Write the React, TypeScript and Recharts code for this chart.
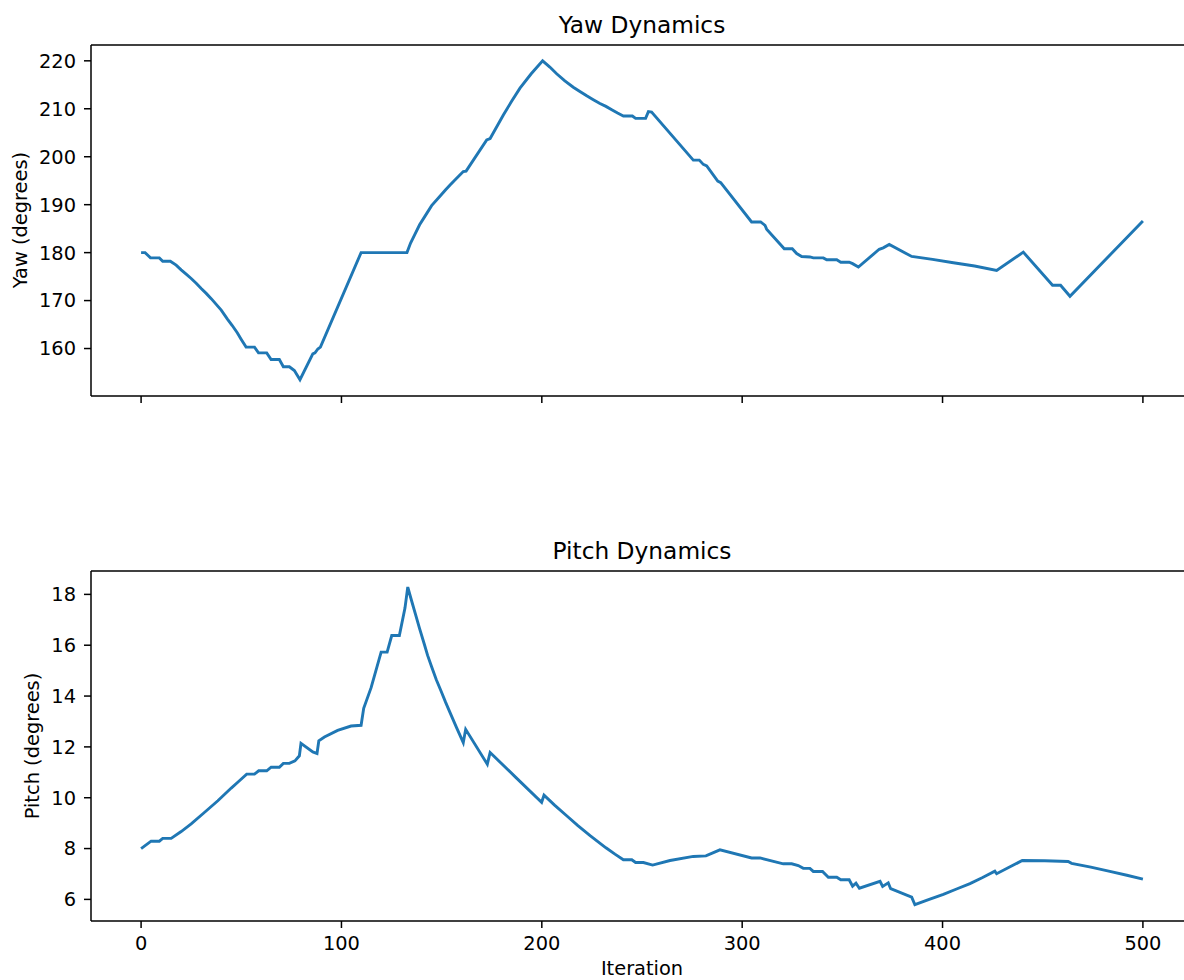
import React from 'react';
import { LineChart, Line, XAxis, YAxis } from 'recharts';

// iteration / value pairs
const yawIterations = [
  0, 2, 4.7, 9.1, 10.8, 14.6, 17.5, 20, 22.5, 25, 27.5, 30, 32.5, 35, 37.5, 40, 43, 45.5, 48, 50, 52.4, 56.6, 58.6,
  62.7, 64.9, 69, 71, 74, 76.5, 79.3, 85.7, 86.8, 88.2, 89.5, 109.8, 132.7, 134.5, 136.4, 139, 141.4, 145, 149.7,
  152, 154.2, 157, 160.8, 162.2, 172.5, 174.2, 180.8, 185, 189.1, 194.7, 200.4, 204, 207.4, 211.5, 215.7, 219,
  222.4, 225.7, 229, 232, 234.9, 237.8, 240.7, 245.2, 246.8, 251.8, 253.2, 254.8, 275.6, 278.6, 280.6, 282.3,
  287.8, 289.3, 304.7, 309.2, 311.4, 312.2, 321, 325, 327.2, 329.7, 333.8, 335.5, 340.5, 342.2, 347.2, 349.2,
  353.4, 355.1, 358, 368.4, 370.4, 373.4, 384.6, 395, 405.4, 416, 427, 440.3, 454.9, 458.9, 463.6, 500,
];
const yawValues = [
  180, 180, 178.9, 178.9, 178.2, 178.2, 177.4, 176.4, 175.5, 174.6, 173.6, 172.5, 171.5, 170.4, 169.2, 168.0, 166.2,
  164.8, 163.3, 161.9, 160.3, 160.3, 159.1, 159.1, 157.7, 157.7, 156.2, 156.2, 155.4, 153.5, 158.9, 159.1, 159.9,
  160.3, 180, 180, 182.0, 183.6, 185.8, 187.4, 189.8, 192.0, 193.1, 194.1, 195.3, 196.9, 197.0, 203.5, 203.8, 208.7,
  211.6, 214.3, 217.3, 220.0, 218.7, 217.3, 215.8, 214.5, 213.6, 212.7, 211.9, 211.1, 210.5, 209.8, 209.1, 208.5,
  208.5, 208.0, 208.0, 209.4, 209.3, 199.3, 199.3, 198.4, 198.1, 194.9, 194.6, 186.4, 186.4, 185.7, 184.9, 180.8,
  180.8, 179.8, 179.2, 179.1, 178.9, 178.9, 178.5, 178.5, 178.0, 178.0, 177.7, 177.0, 180.7, 181.0, 181.7, 179.2,
  178.6, 177.9, 177.2, 176.3, 180.1, 173.2, 173.2, 170.9, 186.6,
];

const pitchIterations = [
  0, 5, 9.1, 10.8, 15, 20, 25, 31, 38.3, 45, 48.8, 52.7, 56.6, 58.7, 62.7, 64.9, 69, 71, 74, 76.8, 79, 79.8, 85.7,
  87.8, 88.7, 91.5, 98.1, 104.8, 109.8, 111.1, 114.8, 119.8, 122.8, 125.1, 128.9, 131.7, 133.1, 135, 137, 139,
  141.4, 143, 145, 147.3, 149.7, 152, 154.2, 157.5, 160.8, 162, 172.8, 174.2, 187, 199.9, 201.1, 206.5, 212.4,
  218, 224.1, 232, 236.5, 240.7, 244.9, 246.8, 250.7, 255.3, 264, 275.6, 281.9, 288.9, 304.7, 308.9, 320.5,
  324.7, 328, 330.5, 333.8, 335.5, 340.1, 343, 347.2, 349.2, 353.4, 355.1, 356.8, 358.5, 368.8, 370.1, 372.9,
  374.1, 384.6, 386.2, 393, 400.4, 407, 413.7, 420, 426.1, 427, 439.8, 451, 462.7, 464.4, 474, 483.5, 492, 500,
];
const pitchValues = [
  8.0, 8.29, 8.29, 8.4, 8.4, 8.67, 8.97, 9.38, 9.88, 10.38, 10.65, 10.93, 10.93, 11.06, 11.06, 11.2, 11.2, 11.35,
  11.35, 11.45, 11.65, 12.14, 11.8, 11.74, 12.24, 12.39, 12.65, 12.82, 12.85, 13.52, 14.33, 15.73, 15.73, 16.38,
  16.38, 17.46, 18.29, 17.75, 17.2, 16.65, 16.03, 15.6, 15.15, 14.65, 14.2, 13.75, 13.35, 12.75, 12.17, 12.69,
  11.32, 11.78, 10.8, 9.82, 10.1, 9.7, 9.29, 8.9, 8.51, 8.03, 7.78, 7.56, 7.56, 7.45, 7.45, 7.35, 7.53, 7.69, 7.71,
  7.95, 7.63, 7.63, 7.4, 7.4, 7.33, 7.22, 7.22, 7.1, 7.1, 6.87, 6.87, 6.77, 6.77, 6.52, 6.64, 6.44, 6.71, 6.51,
  6.65, 6.42, 6.09, 5.79, 5.99, 6.2, 6.41, 6.62, 6.86, 7.11, 7.01, 7.53, 7.52, 7.49, 7.42, 7.27, 7.1, 6.95, 6.8,
];

const xTicks = [0, 100, 200, 300, 400, 500];
const yawTicks = [160, 170, 180, 190, 200, 210, 220];
const pitchTicks = [6, 8, 10, 12, 14, 16, 18];

const yawData = yawIterations.map((it, i) => ({ it, v: yawValues[i] }));
const pitchData = pitchIterations.map((it, i) => ({ it, v: pitchValues[i] }));

const FONT = '"DejaVu Sans", sans-serif';
const tickStyle = { fill: '#000', fontSize: 19.4, fontFamily: FONT };
const axisStroke = { stroke: '#000', strokeWidth: 1.5 };
const X_DOMAIN: [number, number] = [-25, 525];

const textStyle = (left: number, top: number, size: number, rotate = 0): React.CSSProperties => ({
  position: 'absolute',
  left,
  top,
  transform: `translate(-50%, -50%) rotate(${rotate}deg)`,
  fontFamily: FONT,
  fontSize: size,
  lineHeight: 1,
  whiteSpace: 'nowrap',
  color: '#000',
});

interface PanelProps {
  data: { it: number; v: number }[];
  yDomain: [number, number];
  yTicks: number[];
  height: number;
  xAxisHeight: number;
  showXLabels: boolean;
}

const Panel: React.FC<PanelProps> = ({ data, yDomain, yTicks, height, xAxisHeight, showXLabels }) => (
  <LineChart width={1194} height={height} data={data} margin={{ top: 44, right: 1, bottom: 0, left: 0 }}>
    <XAxis
      xAxisId="top"
      orientation="top"
      dataKey="it"
      type="number"
      domain={X_DOMAIN}
      ticks={xTicks}
      allowDataOverflow
      height={1}
      tick={false}
      tickLine={false}
      axisLine={axisStroke}
    />
    <XAxis
      dataKey="it"
      type="number"
      domain={X_DOMAIN}
      ticks={xTicks}
      allowDataOverflow
      height={xAxisHeight}
      tick={tickStyle}
      tickFormatter={showXLabels ? undefined : () => ''}
      tickSize={7}
      tickMargin={8}
      tickLine={axisStroke}
      axisLine={axisStroke}
    />
    <YAxis
      type="number"
      domain={yDomain}
      ticks={yTicks}
      allowDataOverflow
      width={91}
      tick={tickStyle}
      tickSize={7}
      tickMargin={8}
      tickLine={axisStroke}
      axisLine={axisStroke}
    />
    <Line
      xAxisId={0}
      type="linear"
      dataKey="v"
      stroke="#1f77b4"
      strokeWidth={2.9}
      dot={false}
      isAnimationActive={false}
    />
  </LineChart>
);

export default function App() {
  return (
    <div style={{ position: 'absolute', left: 0, top: 0, width: 1184, height: 980, overflow: 'hidden', background: '#fff' }}>
      <div style={{ position: 'absolute', left: 0, top: 0 }}>
        <Panel data={yawData} yDomain={[150.1, 223.3]} yTicks={yawTicks} height={440} xAxisHeight={44} showXLabels={false} />
      </div>
      <div style={{ position: 'absolute', left: 0, top: 526 }}>
        <Panel data={pitchData} yDomain={[5.15, 18.92]} yTicks={pitchTicks} height={454} xAxisHeight={59} showXLabels />
      </div>
      <div style={textStyle(642, 25, 23.3)}>Yaw Dynamics</div>
      <div style={textStyle(642, 551, 23.3)}>Pitch Dynamics</div>
      <div style={textStyle(21, 220, 19.4, -90)}>Yaw (degrees)</div>
      <div style={textStyle(33, 746, 19.4, -90)}>Pitch (degrees)</div>
      <div style={textStyle(642, 969, 19.4)}>Iteration</div>
    </div>
  );
}
